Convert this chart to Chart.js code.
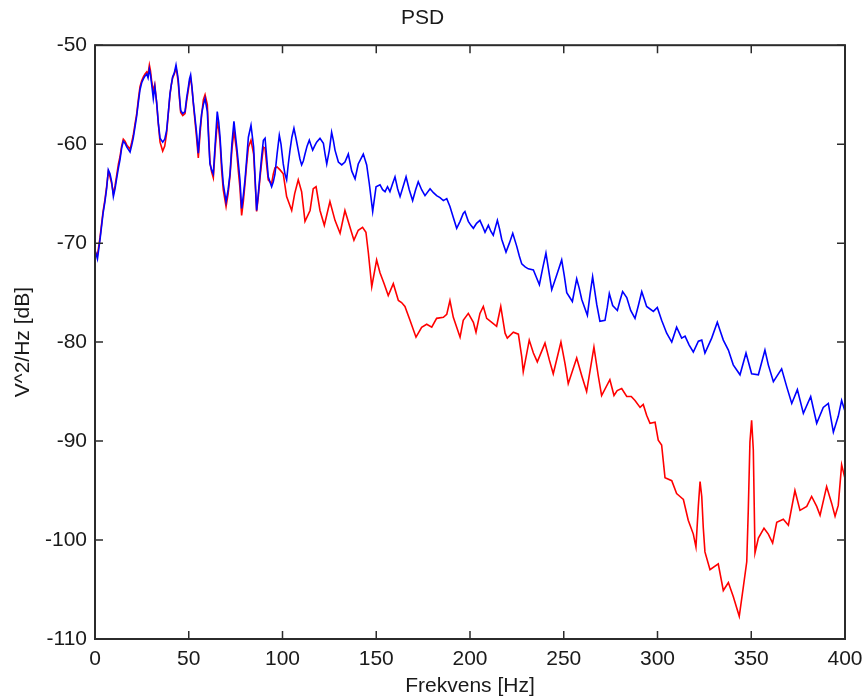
<!DOCTYPE html>
<html lang="no">
<head>
    <meta charset="UTF-8">
    <title>PSD</title>
    <script src="https://cdn.jsdelivr.net/npm/chart.js"></script>
    <style>
        body {
            margin: 0;
            background: #ffffff;
        }
        #wrap {
            width: 865px;
            height: 700px;
        }
    </style>
</head>
<body>

<div id="wrap">
    <canvas id="psdChart" width="865" height="700"></canvas>
</div>

<script>
    // Akser
    const xTicks = [0, 50, 100, 150, 200, 250, 300, 350, 400];
    const yTicks = [-50, -60, -70, -80, -90, -100, -110];

    // Blå kurve (frekvens i Hz, nivå i dB)
    const blueHz = [0, 1.3, 2.7, 4.3, 5.3, 6.2, 7.1, 8, 8.9, 9.8, 10.7, 11.6, 12.5, 13.3, 14.2, 15.1, 16, 17, 18.7, 19.6,
        20.4, 21.3, 22.2, 23.1, 24, 24.9, 25.8, 26.7, 27.6, 28.3, 29, 29.6, 30.2, 31.1, 31.9, 32.9, 33.8, 34.7, 36.1, 37.2,
        38.2, 39.1, 40, 40.7, 41.4, 42.3, 43.2, 43.8, 44.4, 45, 45.7, 46.8, 48, 48.9, 49.8, 50.4, 51, 51.7, 52.4, 53.3,
        54.2, 55.1, 56, 56.9, 57.8, 58.7, 59.9, 60.6, 61.3, 62.2, 63.1, 64.1, 65.2, 66, 66.7, 67.5, 68.4, 69.9, 71, 72,
        73, 74.1, 75.6, 76.5, 77.3, 78.2, 79.1, 80, 80.9, 81.8, 83.2, 84.6, 85.4, 86.2, 87.1, 88, 88.9, 89.8, 90.7, 91.5,
        92.4, 94.2, 95.1, 96, 97.1, 98.3, 99.2, 100.4, 101.3, 102.2, 103.1, 104, 105, 106.1, 107.3, 108.4, 109.3, 110.2, 111.1, 112,
        113.1, 114.3, 115.2, 116.1, 117.1, 118.2, 120, 121.8, 122.7, 123.6, 125, 126.2, 127.1, 128, 129.8, 131.6, 133.3, 135.1, 136.9, 138.7,
        140.4, 143.1, 144.9, 146.3, 148.1, 149.9, 152, 153.4, 154.7, 156, 157.3, 158.7, 160, 161.4, 162.7, 164.3, 165.9, 167.6, 169.4, 171,
        172.4, 174.2, 176, 178.7, 180.5, 182.2, 184, 185.8, 187.6, 189.3, 191.1, 192.9, 194.7, 196.4, 197.3, 198.2, 199.1, 200.5, 201.8, 203.5,
        205.3, 206.7, 208, 209.8, 211.1, 212.4, 214.6, 215.8, 216.9, 219.2, 221, 222.8, 224.9, 226.3, 227.6, 229.4, 231.1, 233.8, 235.5, 237,
        238.8, 240.5, 242, 243.6, 246.3, 248.9, 250.3, 251.6, 254.6, 256.9, 258.3, 259.6, 262.6, 264, 265.4, 266.5, 267.6, 269.3, 272, 273.2,
        274.3, 276.1, 278.6, 280, 281.4, 283.6, 285.7, 288, 289.8, 291.6, 293, 294.2, 297.8, 299.9, 302.2, 304.9, 307.6, 310.2, 312.9, 314.7,
        316.9, 319.1, 321.8, 323.6, 325.3, 328.9, 331.9, 333.5, 335.1, 337.8, 340.4, 344, 347.2, 350.2, 353.8, 357.3, 359.1, 361.8, 366.2, 368.9,
        371.6, 374.6, 377.8, 381.7, 384.9, 388.4, 391.1, 393.8, 396.4, 398.2, 400];
    const blueDb = [-70.7, -71.6, -69.6, -67.0, -65.8, -64.5, -62.6, -63.0, -63.8, -65.3, -64.5, -63.4, -62.4, -61.6, -60.4, -59.7, -59.9, -60.3, -60.8, -60.1,
        -59.4, -58.3, -57.2, -55.8, -54.5, -53.8, -53.4, -53.1, -52.9, -53.3, -52.4, -53.0, -53.9, -55.4, -54.2, -55.8, -57.9, -59.4, -59.8, -59.5,
        -58.6, -56.8, -54.9, -54.0, -53.2, -52.8, -52.0, -52.7, -53.5, -55.0, -56.6, -56.9, -56.7, -55.3, -54.2, -53.4, -53.0, -54.2, -55.7, -57.3,
        -58.9, -60.9, -58.5, -56.9, -56.0, -55.4, -56.7, -59.5, -62.0, -62.6, -63.0, -60.0, -56.7, -57.8, -59.3, -61.8, -64.0, -65.8, -64.6, -63.0,
        -60.0, -57.7, -60.3, -62.0, -63.6, -66.5, -65.2, -63.6, -61.5, -59.3, -58.1, -60.3, -63.5, -66.7, -65.0, -63.1, -61.2, -59.6, -59.4, -61.2,
        -63.3, -64.3, -63.8, -63.0, -61.0, -59.1, -60.0, -62.0, -63.0, -63.6, -62.0, -60.6, -59.3, -58.4, -59.5, -60.6, -61.5, -62.1, -61.7, -61.0,
        -60.2, -59.6, -60.1, -60.6, -60.2, -59.8, -59.4, -59.9, -61.0, -62.0, -60.6, -58.8, -59.6, -60.6, -61.8, -62.1, -61.8, -61.0, -62.7, -63.5,
        -62.0, -61.0, -62.1, -64.0, -66.8, -64.3, -64.1, -64.6, -64.8, -64.3, -64.8, -64.0, -63.3, -64.5, -65.3, -64.3, -63.3, -64.6, -65.7, -64.6,
        -63.8, -64.6, -65.2, -64.5, -64.9, -65.2, -65.4, -65.7, -65.5, -66.3, -67.4, -68.5, -67.8, -67.0, -66.8, -67.3, -67.8, -68.2, -68.5, -68.0,
        -67.7, -68.3, -68.9, -68.2, -68.8, -69.2, -67.7, -68.6, -69.6, -70.9, -70.0, -69.0, -70.3, -71.3, -72.1, -72.4, -72.6, -72.7, -73.5, -74.2,
        -72.5, -71.0, -72.8, -74.7, -73.2, -71.7, -73.3, -75.0, -75.9, -73.6, -74.6, -75.7, -77.3, -75.2, -73.4, -74.8, -76.2, -77.9, -77.8, -76.5,
        -75.1, -76.3, -76.8, -75.8, -74.9, -75.5, -76.8, -77.6, -76.3, -74.9, -75.7, -76.4, -76.9, -76.5, -77.8, -79.1, -80.0, -78.5, -79.6, -79.4,
        -80.3, -81.0, -79.9, -79.8, -81.1, -79.6, -78.0, -78.9, -79.8, -80.8, -82.3, -83.3, -81.1, -83.2, -83.3, -80.8, -82.3, -84.0, -82.7, -84.5,
        -86.2, -84.8, -87.2, -85.5, -88.2, -86.6, -86.2, -89.1, -87.5, -85.9, -87.0];

    // Rød kurve
    const redHz = [0, 1.3, 2.7, 4.3, 5.3, 6.2, 7.1, 8, 8.9, 9.8, 10.7, 11.6, 12.5, 13.3, 14.2, 15.1, 16, 17, 18.7, 19.6,
        20.4, 21.3, 22.2, 23.1, 24, 24.9, 25.8, 26.7, 27.6, 28.3, 29, 29.6, 30.2, 31.1, 31.9, 32.9, 33.8, 34.7, 36.1, 37.2,
        38.2, 39.1, 40, 40.7, 41.4, 42.3, 43.2, 43.8, 44.4, 45, 45.7, 46.8, 48, 48.9, 49.8, 50.4, 51, 51.7, 52.4, 53.3,
        54.2, 55.1, 56, 56.9, 57.8, 58.7, 59.9, 60.6, 61.3, 62.2, 63.1, 64.1, 65.2, 66, 66.7, 67.5, 68.4, 69.9, 71, 72,
        73, 74.1, 75.6, 76.5, 77.3, 78.2, 79.1, 80, 80.9, 81.8, 83.2, 84.6, 85.4, 86.2, 87.1, 88, 88.9, 89.8, 90.7, 91.5,
        92.4, 94.2, 95.1, 96, 97.1, 98.7, 100.4, 102.2, 104.9, 106.5, 108.4, 110.2, 112, 114.7, 116.4, 117.9, 120, 122.3, 125.3, 128,
        130.7, 133.3, 136, 138.1, 140.4, 142.7, 144.5, 145.8, 147.6, 150.2, 152, 154.2, 156.4, 159.1, 161.8, 163.5, 165.3, 168, 171.2, 174.2,
        176.9, 179.6, 182.2, 185.8, 187.6, 189.3, 191.1, 194.7, 196.4, 199.1, 201.8, 203.2, 205.3, 207.1, 208.9, 211.6, 214.2, 216.4, 218.7, 219.9,
        223.1, 225.8, 227.6, 228.4, 231.6, 233.8, 235.9, 240, 242.3, 244.4, 248.5, 250.7, 252.4, 256.9, 259.6, 262.2, 266.1, 268.4, 270.2, 274.6,
        276.8, 278.5, 280.9, 283.6, 286, 288, 290.7, 292.4, 294.2, 296, 298.7, 300.4, 302.2, 304, 307.6, 310.2, 312, 313.8, 316.4, 319.1,
        320.5, 321.8, 322.7, 323.6, 324.4, 325.3, 328, 332.4, 335.1, 337.8, 340.4, 343.6, 345.8, 347.6, 348.4, 349.3, 350.2, 351.1, 352, 353.8,
        356.8, 359.1, 361.4, 363.6, 367.1, 369.8, 373.3, 376, 379.6, 382.2, 384.9, 386.7, 390.2, 392.9, 394.7, 396.4, 398.2, 400];
    const redDb = [-70.9, -71.2, -69.4, -66.8, -65.6, -64.3, -62.8, -63.3, -64.0, -65.0, -64.2, -63.1, -62.0, -61.3, -60.2, -59.5, -59.7, -60.1, -60.5, -59.8,
        -59.1, -58.0, -57.0, -55.5, -54.2, -53.6, -53.2, -52.9, -52.7, -52.9, -52.0, -52.6, -53.6, -54.6, -54.0, -55.9, -58.0, -59.8, -60.7, -60.2,
        -58.9, -56.9, -55.0, -54.0, -53.3, -52.9, -52.3, -52.9, -53.8, -55.3, -56.8, -57.1, -56.9, -55.6, -54.5, -53.7, -53.3, -54.3, -55.8, -57.6,
        -59.4, -61.4, -59.0, -57.0, -55.5, -55.0, -56.0, -59.0, -61.8, -62.8, -63.4, -60.5, -57.8, -58.5, -59.8, -62.5, -64.6, -66.3, -65.0, -63.2,
        -60.6, -58.6, -60.8, -62.8, -64.4, -67.2, -65.8, -64.0, -62.0, -60.3, -59.6, -61.0, -63.8, -66.8, -65.3, -63.4, -61.8, -60.3, -60.4, -62.0,
        -63.6, -64.0, -63.0, -62.4, -62.3, -62.6, -63.0, -65.3, -66.7, -65.0, -63.6, -64.8, -67.8, -66.7, -64.5, -64.3, -66.7, -68.2, -65.8, -67.7,
        -69.0, -66.7, -68.4, -69.7, -68.7, -68.4, -68.9, -71.0, -74.4, -71.7, -73.0, -74.1, -75.3, -74.1, -75.8, -76.0, -76.4, -77.8, -79.5, -78.5,
        -78.2, -78.5, -77.6, -77.5, -77.2, -75.8, -77.5, -79.5, -77.8, -77.1, -78.0, -79.0, -77.1, -76.4, -77.6, -78.0, -78.4, -76.4, -79.1, -79.6,
        -79.0, -79.2, -81.5, -83.0, -79.8, -81.1, -82.0, -80.1, -81.8, -83.2, -80.0, -82.2, -84.2, -81.6, -83.4, -85.0, -80.5, -83.4, -85.4, -83.8,
        -85.4, -84.9, -84.7, -85.5, -85.5, -85.9, -86.6, -86.3, -87.4, -88.2, -88.1, -89.9, -90.4, -93.7, -94.0, -95.3, -95.6, -95.9, -98.0, -99.4,
        -100.7, -96.5, -94.1, -95.6, -98.7, -101.2, -103.0, -102.4, -105.1, -104.3, -105.7, -107.7, -104.7, -102.2, -97.1, -90.1, -87.9, -90.9, -101.3, -99.8,
        -98.8, -99.4, -100.3, -98.2, -97.9, -98.5, -95.0, -97.0, -96.6, -95.6, -96.6, -97.5, -94.6, -96.3, -97.6, -96.5, -92.4, -93.8];

    const toPoints = (xs, ys) => xs.map((x, i) => ({ x: x, y: ys[i] }));

    // Ramme rundt plottet og tikker som peker innover (som i MATLAB)
    const boxPlugin = {
        id: 'matlabBox',
        afterDatasetsDraw(chart) {
            const { ctx, chartArea: a, scales } = chart;
            const len = 8;
            ctx.save();
            ctx.strokeStyle = '#2b2b2b';
            ctx.lineWidth = 1.5;
            ctx.beginPath();
            xTicks.forEach(v => {
                const px = scales.x.getPixelForValue(v);
                ctx.moveTo(px, a.bottom);
                ctx.lineTo(px, a.bottom - len);
                ctx.moveTo(px, a.top);
                ctx.lineTo(px, a.top + len);
            });
            yTicks.forEach(v => {
                const py = scales.y.getPixelForValue(v);
                ctx.moveTo(a.left, py);
                ctx.lineTo(a.left + len, py);
                ctx.moveTo(a.right, py);
                ctx.lineTo(a.right - len, py);
            });
            ctx.stroke();
            ctx.lineWidth = 2;
            ctx.strokeRect(a.left, a.top, a.right - a.left, a.bottom - a.top);
            ctx.restore();
        }
    };

    Chart.defaults.font.family = "'Liberation Sans', Arial, sans-serif";
    Chart.defaults.font.size = 21;
    Chart.defaults.color = '#1a1a1a';

    const ctx = document.getElementById('psdChart').getContext('2d');
    const psdChart = new Chart(ctx, {
        type: 'line',
        data: {
            datasets: [
                {
                    label: 'blå',
                    data: toPoints(blueHz, blueDb),
                    borderColor: '#0000ff',
                    borderWidth: 1.6,
                    pointRadius: 0,
                    tension: 0
                },
                {
                    label: 'rød',
                    data: toPoints(redHz, redDb),
                    borderColor: '#ff0000',
                    borderWidth: 1.6,
                    pointRadius: 0,
                    tension: 0
                }
            ]
        },
        options: {
            responsive: false,
            animation: false,
            layout: {
                padding: { left: 0, right: 20, top: 0, bottom: 0 }
            },
            plugins: {
                legend: { display: false },
                tooltip: { enabled: false },
                title: {
                    display: true,
                    text: 'PSD',
                    font: { size: 21, weight: 'normal' },
                    padding: { top: 6, bottom: 14 }
                }
            },
            scales: {
                x: {
                    type: 'linear',
                    min: 0,
                    max: 400,
                    grid: { display: false, drawTicks: false },
                    border: { display: false },
                    ticks: { stepSize: 50, padding: 8, maxRotation: 0 },
                    title: {
                        display: true,
                        text: 'Frekvens [Hz]',
                        padding: { top: 0, bottom: 1 }
                    },
                    afterFit(scale) {
                        scale.height = 61;
                        scale.paddingLeft = 0;
                        scale.paddingRight = 0;
                    }
                },
                y: {
                    min: -110,
                    max: -50,
                    grid: { display: false, drawTicks: false },
                    border: { display: false },
                    ticks: { stepSize: 10, padding: 8 },
                    title: {
                        display: true,
                        text: 'V^2/Hz [dB]',
                        padding: { top: 11, bottom: 0 }
                    },
                    afterFit(scale) { scale.width = 95; }
                }
            }
        },
        plugins: [boxPlugin]
    });
</script>

</body>
</html>
